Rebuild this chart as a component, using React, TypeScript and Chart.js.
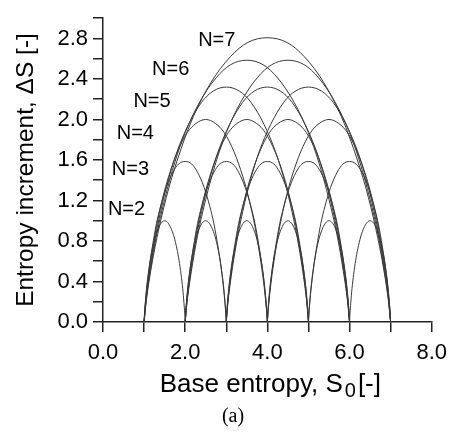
import { useEffect, useRef } from 'react';
import { Chart, registerables } from 'chart.js';

Chart.register(...registerables);

// Number of states per family of arcs
const nValues = [2, 3, 4, 5, 6, 7];
// Width of one arc along S0 (in S0 units)
const arcWidths = [1, 2, 3, 4, 5, 6];
// Starting S0 of each arc, per N
const startsN2 = [1, 2, 3, 4, 5, 6];
const startsN3 = [1, 2, 3, 4, 5];
const startsN4 = [1, 2, 3, 4];
const startsN5 = [1, 2, 3];
const startsN6 = [1, 2];
const startsN7 = [1];

// Position along an arc (fraction of its width) where the values below were read
const arcFraction = [0, 0.01, 0.03, 0.06, 0.1, 0.15, 0.2, 0.27, 0.35, 0.42, 0.5, 0.58, 0.65, 0.73, 0.8, 0.85, 0.9, 0.94, 0.97, 0.99, 1];
// Entropy increment read along one arc of each family
const arcN2 = [0, 0.08, 0.19, 0.33, 0.47, 0.61, 0.72, 0.84, 0.93, 0.98, 1.0, 0.98, 0.93, 0.84, 0.72, 0.61, 0.47, 0.33, 0.19, 0.08, 0];
const arcN3 = [0, 0.13, 0.31, 0.52, 0.74, 0.97, 1.14, 1.33, 1.48, 1.56, 1.585, 1.56, 1.48, 1.33, 1.14, 0.97, 0.74, 0.52, 0.31, 0.13, 0];
const arcN4 = [0, 0.16, 0.39, 0.65, 0.94, 1.22, 1.44, 1.68, 1.87, 1.96, 2.0, 1.96, 1.87, 1.68, 1.44, 1.22, 0.94, 0.65, 0.39, 0.16, 0];
const arcN5 = [0, 0.19, 0.45, 0.76, 1.09, 1.42, 1.68, 1.95, 2.17, 2.28, 2.32, 2.28, 2.17, 1.95, 1.68, 1.42, 1.09, 0.76, 0.45, 0.19, 0];
const arcN6 = [0, 0.21, 0.5, 0.85, 1.21, 1.58, 1.87, 2.17, 2.41, 2.54, 2.585, 2.54, 2.41, 2.17, 1.87, 1.58, 1.21, 0.85, 0.5, 0.21, 0];
const arcN7 = [0, 0.23, 0.55, 0.92, 1.32, 1.71, 2.03, 2.36, 2.62, 2.76, 2.807, 2.76, 2.62, 2.36, 2.03, 1.71, 1.32, 0.92, 0.55, 0.23, 0];

// Curve labels and their anchor points (data coordinates, left / baseline)
const nLabels = ['N=2', 'N=3', 'N=4', 'N=5', 'N=6', 'N=7'];
const labelX = [0.12, 0.215, 0.334, 0.74, 1.194, 2.316];
const labelY = [1.058, 1.453, 1.809, 2.126, 2.444, 2.723];

const yTitle = 'Entropy increment, ΔS [-]';
const xTitleMain = 'Base entropy, S';
const xTitleSub = '0';
const xTitleEnd = '[-]';
const caption = '(a)';

const SANS = '"Liberation Sans", Arial, Helvetica, sans-serif';
const SERIF = '"Liberation Serif", "Times New Roman", serif';

function buildArc(start: number, width: number, values: number[]) {
  return arcFraction.map((f, i) => ({ x: start + f * width, y: values[i] }));
}

const textPlugin = {
  id: 'textPlugin',
  afterDraw(chart: any) {
    const ctx = chart.ctx as CanvasRenderingContext2D;
    const xs = chart.scales.x;
    const ys = chart.scales.y;
    ctx.save();
    ctx.fillStyle = '#000';
    // N labels
    ctx.font = `20px ${SANS}`;
    ctx.textAlign = 'left';
    ctx.textBaseline = 'alphabetic';
    nLabels.forEach((t, i) => {
      ctx.fillText(t, xs.getPixelForValue(labelX[i]), ys.getPixelForValue(labelY[i]));
    });
    // Y title
    ctx.save();
    ctx.translate(33, 170);
    ctx.rotate(-Math.PI / 2);
    ctx.font = `24.5px ${SANS}`;
    ctx.textAlign = 'center';
    ctx.fillText(yTitle, 0, 0);
    ctx.restore();
    // X title with subscript
    ctx.font = `26px ${SANS}`;
    const w1 = ctx.measureText(xTitleMain).width;
    const w3 = ctx.measureText(xTitleEnd).width;
    ctx.font = `20px ${SANS}`;
    const w2 = ctx.measureText(xTitleSub).width;
    const total = w1 + 2 + w2 + 2 + w3;
    const cx = (chart.chartArea.left + chart.chartArea.right) / 2 + 3;
    let x0 = cx - total / 2;
    ctx.textAlign = 'left';
    ctx.font = `26px ${SANS}`;
    ctx.fillText(xTitleMain, x0, 392);
    x0 += w1 + 2;
    ctx.font = `20px ${SANS}`;
    ctx.fillText(xTitleSub, x0, 397);
    x0 += w2 + 2;
    ctx.font = `26px ${SANS}`;
    ctx.fillText(xTitleEnd, x0, 392);
    // caption
    ctx.font = `20px ${SERIF}`;
    ctx.textAlign = 'center';
    ctx.fillText(caption, 233, 422);
    ctx.restore();
  },
};

export default function App() {
  const ref = useRef<HTMLCanvasElement | null>(null);
  useEffect(() => {
    document.body.style.margin = '0';
    const canvas = ref.current;
    if (!canvas) return;
    const startsList = [startsN2, startsN3, startsN4, startsN5, startsN6, startsN7];
    const valuesList = [arcN2, arcN3, arcN4, arcN5, arcN6, arcN7];
    const datasets: any[] = [];
    nValues.forEach((n, i) => {
      startsList[i].forEach((s) => {
        datasets.push({
          label: `N=${n} @${s}`,
          data: buildArc(s, arcWidths[i], valuesList[i]),
          borderColor: '#3a3a3a',
          borderWidth: 1,
          pointRadius: 0,
          fill: false,
          cubicInterpolationMode: 'monotone',
        });
      });
    });
    const chart = new Chart(canvas, {
      type: 'line',
      data: { datasets },
      plugins: [textPlugin],
      options: {
        animation: false,
        responsive: false,
        layout: { padding: { top: 10, right: 17, left: 0, bottom: 0 } },
        plugins: { legend: { display: false }, tooltip: { enabled: false } },
        scales: {
          x: {
            type: 'linear',
            min: 0,
            max: 8,
            afterFit(scale: any) {
              scale.height = 113;
            },
            border: { display: true, color: '#222', width: 1.5 },
            grid: { drawOnChartArea: false, drawTicks: true, tickLength: 10, color: '#222', lineWidth: 1.5 },
            ticks: {
              stepSize: 1,
              autoSkip: false,
              maxRotation: 0,
              padding: 8,
              color: '#000',
              font: { family: SANS, size: 22 },
              callback: (v: any) => (Math.round(Number(v)) % 2 === 0 ? Number(v).toFixed(1) : ''),
            },
          },
          y: {
            type: 'linear',
            min: 0,
            max: 3,
            afterFit(scale: any) {
              scale.width = 103;
            },
            border: { display: true, color: '#222', width: 1.5 },
            grid: { drawOnChartArea: false, drawTicks: true, tickLength: 10, color: '#222', lineWidth: 1.5 },
            ticks: {
              stepSize: 0.2,
              autoSkip: false,
              padding: 5,
              color: '#000',
              font: { family: SANS, size: 22 },
              callback: (v: any) => (Math.round(Number(v) * 10) % 4 === 0 ? Number(v).toFixed(1) : ''),
            },
          },
        },
      },
    });
    return () => chart.destroy();
  }, []);
  return (
    <div style={{ position: 'relative', width: 455, height: 435 }}>
      <canvas ref={ref} width={455} height={435} style={{ display: 'block' }} />
    </div>
  );
}
